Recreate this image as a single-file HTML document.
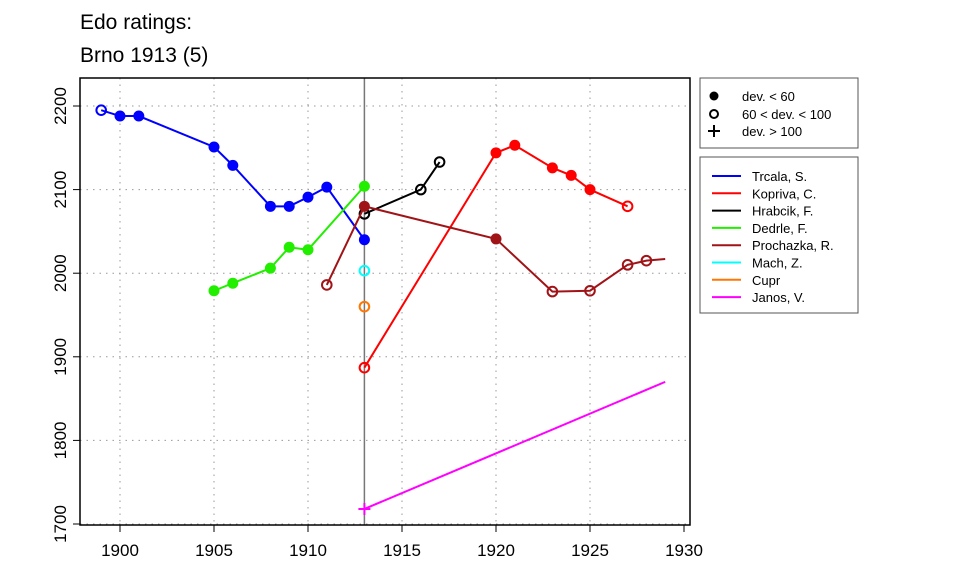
<!DOCTYPE html>
<html><head><meta charset="utf-8"><style>body{margin:0;background:#fff}svg{font-family:"Liberation Sans",Arial,sans-serif}</style></head>
<body>
<svg id="c" width="960" height="576">
<text x="80" y="29" font-size="21">Edo ratings:</text>
<text x="80" y="62" font-size="21">Brno 1913 (5)</text>
<g id="grid"></g><g id="axes"></g><g id="series"></g>
<rect x="80" y="78" width="610" height="447" fill="none" stroke="#000" stroke-width="1.5"/>
<g>
<rect x="700" y="78" width="158" height="70" fill="#fff" stroke="#555"/>
<circle cx="714" cy="96" r="4.5" fill="#000"/><text x="742" y="101" font-size="13">dev. &lt; 60</text>
<circle cx="714" cy="114" r="4" fill="none" stroke="#000" stroke-width="2"/><text x="742" y="119" font-size="13">60 &lt; dev. &lt; 100</text>
<path d="M708 131h12M714 125v12" stroke="#000" stroke-width="2"/><text x="742" y="136" font-size="13">dev. &gt; 100</text>
</g>
<g id="legend"><rect x="700" y="157" width="158" height="156" fill="#fff" stroke="#555"/></g>
</svg>
<script>
const years=[1900,1905,1910,1915,1920,1925,1930];
const yticks=[1700,1800,1900,2000,2100,2200];
const names=["Trcala, S.","Kopriva, C.","Hrabcik, F.","Dedrle, F.","Prochazka, R.","Mach, Z.","Cupr","Janos, V."];
const colors=["#0000ff","#ff0000","#000000","#22ee00","#a01418","#00ffff","#ff7700","#ff00ff"];
const trcalaX=[1899,1900,1901,1905,1906,1908,1909,1910,1911,1913];
const trcalaY=[2195,2188,2188,2151,2129,2080,2080,2091,2103,2040];
const trcalaM=["o","f","f","f","f","f","f","f","f","f"];
const koprivaX=[1913,1920,1921,1923,1924,1925,1927];
const koprivaY=[1887,2144,2153,2126,2117,2100,2080];
const koprivaM=["o","f","f","f","f","f","o"];
const hrabcikX=[1913,1916,1917];
const hrabcikY=[2071,2100,2133];
const hrabcikM=["o","o","o"];
const dedrleX=[1905,1906,1908,1909,1910,1913];
const dedrleY=[1979,1988,2006,2031,2028,2104];
const dedrleM=["f","f","f","f","f","f"];
const prochX=[1911,1913,1920,1923,1925,1927,1928,1929];
const prochY=[1986,2080,2041,1978,1979,2010,2015,2017];
const prochM=["o","f","f","o","o","o","o",""];
const machX=[1913],machY=[2003],machM=["o"];
const cuprX=[1913],cuprY=[1960],cuprM=["o"];
const janosX=[1913,1929],janosY=[1718,1870],janosM=["p",""];
const series=[[trcalaX,trcalaY,trcalaM],[koprivaX,koprivaY,koprivaM],[hrabcikX,hrabcikY,hrabcikM],[dedrleX,dedrleY,dedrleM],[prochX,prochY,prochM],[machX,machY,machM],[cuprX,cuprY,cuprM],[janosX,janosY,janosM]];
const sx=v=>120+(v-1900)*18.8, sy=v=>106+(2200-v)*0.836;
const NS="http://www.w3.org/2000/svg";
function mk(t,a,p){const e=document.createElementNS(NS,t);for(const k in a)e.setAttribute(k,a[k]);p.appendChild(e);return e;}
const grid=document.getElementById('grid'),axes=document.getElementById('axes'),ser=document.getElementById('series'),leg=document.getElementById('legend');
years.forEach(y=>{const x=sx(y);
 if(y<1930){const g=mk('line',{x1:x,x2:x,y1:78,y2:525,stroke:'#999','stroke-dasharray':'1.5 5'},grid);
 
 }
 mk('line',{x1:x,x2:x,y1:525,y2:532,stroke:'#000'},axes);
 const t=mk('text',{x:x,y:556,'font-size':17,'text-anchor':'middle'},axes);t.textContent=y;
 
 });
yticks.forEach(v=>{const y=sy(v);
 const g=mk('line',{x1:80,x2:690,y1:y,y2:y,stroke:'#999','stroke-dasharray':'1.5 5'},grid);
 
 
 mk('line',{x1:73,x2:80,y1:y,y2:y,stroke:'#000'},axes);
 const t=mk('text',{x:0,y:0,'font-size':17,'text-anchor':'middle',transform:`translate(66 ${y}) rotate(-90)`},axes);t.textContent=v;
 
 });
const vl=mk('line',{x1:sx(1913),x2:sx(1913),y1:78,y2:525,stroke:'#777','stroke-width':1.5},grid);


series.forEach((s,i)=>{const [X,Y,M]=s,c=colors[i];
 const g=mk('g',{},ser);
 
 
 if(X.length>1)mk('polyline',{points:X.map((x,j)=>sx(x)+','+sy(Y[j])).join(' '),fill:'none',stroke:c,'stroke-width':2},g);
 X.forEach((x,j)=>{const cx=sx(x),cy=sy(Y[j]);let e=null;
  if(M[j]=='f')e=mk('circle',{cx,cy,r:5.5,fill:c},g);
  else if(M[j]=='o')e=mk('circle',{cx,cy,r:4.8,fill:'none',stroke:c,'stroke-width':2},g);
  else if(M[j]=='p')e=mk('path',{d:`M${cx-6} ${cy}h12M${cx} ${cy-6}v12`,stroke:c,'stroke-width':2},g);
  if(e){
  }});
 const ly=176+i*17.3;
 const le=mk('g',{},leg);
 
 
 mk('line',{x1:712,x2:741,y1:ly,y2:ly,stroke:c,'stroke-width':2},le);
 const t=mk('text',{x:752,y:ly+5,'font-size':13},le);t.textContent=names[i];});
</script>
</body></html>
